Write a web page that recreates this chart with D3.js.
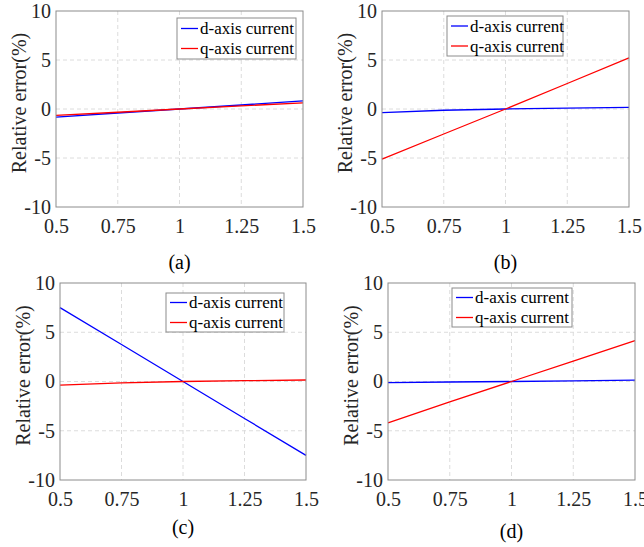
<!DOCTYPE html>
<html>
<head>
<meta charset="utf-8">
<script src="https://cdn.jsdelivr.net/npm/d3@7"></script>
<style>
  body { margin: 0; background: #fff; }
  svg text { font-family: "Liberation Serif", "Times New Roman", serif; }
  .grid line { stroke: #dcdcdc; stroke-dasharray: 4,3; stroke-width: 1; }
  .tick text { fill: #262626; }
</style>
</head>
<body>
<svg width="644" height="547"></svg>
<script>
// load ratio on the x axis
const xVals = [0.5, 0.75, 1, 1.25, 1.5];
const xTicks = [0.5, 0.75, 1, 1.25, 1.5];
const yTicks = [-10, -5, 0, 5, 10];
const seriesNames = ["d-axis current", "q-axis current"];

// relative error (%)
const dA = [-0.82, -0.41, 0, 0.41, 0.82];
const qA = [-0.66, -0.33, 0, 0.32, 0.63];
const dB = [-0.36, -0.13, 0, 0.08, 0.16];
const qB = [-5.12, -2.55, 0, 2.6, 5.22];
const dC = [7.5, 3.75, 0, -3.75, -7.5];
const qC = [-0.36, -0.13, 0, 0.08, 0.15];
const dD = [-0.12, -0.05, 0, 0.07, 0.14];
const qD = [-4.2, -2.08, 0, 2.08, 4.16];

const serif = '"Liberation Serif", "Times New Roman", serif';

const panels = [
  { tag: "(a)", d: dA, q: qA, box: [56, 11, 303, 207], leg: [177, 18, 119, 41], tagY: 269 },
  { tag: "(b)", d: dB, q: qB, box: [382, 11, 629, 207], leg: [447, 16, 116, 40], tagY: 269 },
  { tag: "(c)", d: dC, q: qC, box: [60, 283, 306, 480], leg: [166, 293, 118, 39], tagY: 534 },
  { tag: "(d)", d: dD, q: qD, box: [388, 283, 635, 480], leg: [452, 288, 120, 39], tagY: 538 }
];

const colors = ["#0000ff", "#ff0000"];
const svg = d3.select("svg").attr("font-family", serif);

panels.forEach(p => {
  const [x0, y0, x1, y1] = p.box;
  const x = d3.scaleLinear().domain([0.5, 1.5]).range([x0, x1]);
  const y = d3.scaleLinear().domain([-10, 10]).range([y1, y0]);
  const g = svg.append("g");

  // dashed grid
  const grid = g.append("g").attr("class", "grid");
  grid.selectAll(".gx")
    .data(xTicks.slice(1, -1))
    .enter().append("line")
    .attr("x1", d => x(d)).attr("x2", d => x(d))
    .attr("y1", y0).attr("y2", y1);
  grid.selectAll(".gy")
    .data(yTicks.slice(1, -1))
    .enter().append("line")
    .attr("x1", x0).attr("x2", x1)
    .attr("y1", d => y(d)).attr("y2", d => y(d));

  // axes
  const xa = g.append("g")
    .attr("transform", `translate(0,${y1})`)
    .call(d3.axisBottom(x).tickValues(xTicks).tickSize(0).tickPadding(12).tickFormat(d => String(d)));
  xa.attr("font-family", serif).attr("font-size", 20);
  xa.select(".domain").remove();

  const ya = g.append("g")
    .attr("transform", `translate(${x0},0)`)
    .call(d3.axisLeft(y).tickValues(yTicks).tickSize(0).tickPadding(5).tickFormat(d => d < 0 ? "-" + Math.abs(d) : String(d)));
  ya.attr("font-family", serif).attr("font-size", 20);
  ya.select(".domain").remove();

  // lines
  const line = d3.line().x((d, i) => x(xVals[i])).y(d => y(d));
  [p.d, p.q].forEach((vals, k) => {
    g.append("path")
      .datum(vals)
      .attr("fill", "none")
      .attr("stroke", colors[k])
      .attr("stroke-width", 1.3)
      .attr("d", line);
  });

  // box
  g.append("rect")
    .attr("x", x0).attr("y", y0)
    .attr("width", x1 - x0).attr("height", y1 - y0)
    .attr("fill", "none")
    .attr("stroke", "#8c8c8c")
    .attr("stroke-width", 1);

  // y label
  g.append("text")
    .attr("transform", `translate(${x0 - 37},${(y0 + y1) / 2 - 6}) rotate(-90)`)
    .attr("text-anchor", "middle")
    .attr("dominant-baseline", "central")
    .attr("font-size", 20)
    .attr("fill", "#262626")
    .text("Relative error(%)");

  // legend
  const [lx, ly, lw, lh] = p.leg;
  const leg = g.append("g").attr("transform", `translate(${lx},${ly})`);
  leg.append("rect")
    .attr("width", lw).attr("height", lh)
    .attr("fill", "#fff")
    .attr("stroke", "#8c8c8c");
  seriesNames.forEach((name, k) => {
    const ry = lh / 2 + (k - 0.5) * 20;
    leg.append("line")
      .attr("x1", 4).attr("x2", 21)
      .attr("y1", ry).attr("y2", ry)
      .attr("stroke", colors[k])
      .attr("stroke-width", 1.3);
    leg.append("text")
      .attr("x", 23).attr("y", ry)
      .attr("dominant-baseline", "central")
      .attr("font-size", 17)
      .attr("fill", "#000")
      .text(name);
  });

  // panel tag
  g.append("text")
    .attr("x", (x0 + x1) / 2)
    .attr("y", p.tagY)
    .attr("text-anchor", "middle")
    .attr("font-size", 20)
    .attr("fill", "#000")
    .text(p.tag);
});
</script>
</body>
</html>
